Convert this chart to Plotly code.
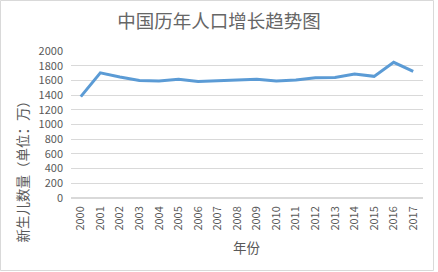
import plotly.graph_objects as go

years = [str(y) for y in range(2000, 2018)]
births = [1379, 1702, 1647, 1599, 1593, 1617, 1585, 1594, 1608, 1615, 1592, 1604, 1635, 1640, 1687, 1655, 1846, 1723]

W, H = 438, 272
L, R, T, B = 71, 15, 51, 74
pw, ph = W - L - R, H - T - B

font = "Noto Sans CJK SC, Microsoft YaHei, sans-serif"
grey = "#595959"

fig = go.Figure(go.Scatter(
    x=years, y=births, mode="lines",
    line=dict(color="#5B9BD5", width=3),
))

def px_x(p):
    return (p - L) / pw

def px_y(p):
    return 1 - (p - T) / ph

fig.add_shape(type="rect", xref="paper", yref="paper",
              x0=px_x(0.5), x1=px_x(433.5), y0=px_y(270.5), y1=px_y(0.5),
              line=dict(color="#d9d9d9", width=1), layer="below")

fig.add_annotation(text="新生儿数量（单位：万）", xref="paper", yref="paper",
                   x=px_x(21.5), y=px_y(168), textangle=-90, showarrow=False,
                   xanchor="center", yanchor="middle",
                   font=dict(size=13.5, color=grey, family=font))
fig.add_annotation(text="年份", xref="paper", yref="paper",
                   x=px_x(247), y=px_y(247), showarrow=False,
                   xanchor="center", yanchor="middle",
                   font=dict(size=13.5, color=grey, family=font))

fig.update_layout(
    width=W, height=H,
    margin=dict(l=L, r=R, t=T, b=B),
    paper_bgcolor="white", plot_bgcolor="white",
    showlegend=False,
    font=dict(family=font, color=grey, size=11),
    title=dict(text="中国历年人口增长趋势图", x=0.5, xanchor="center",
               y=1 - 22 / H, yanchor="middle",
               font=dict(size=18.5, color="#666666", family=font)),
    xaxis=dict(type="category", range=[-0.5, 17.5], tickangle=-90,
               showgrid=False, showline=False, ticks="", ticklabelstandoff=5,
               tickfont=dict(size=11, color=grey)),
    yaxis=dict(range=[0, 2000], dtick=200, showgrid=True, gridcolor="#d9d9d9",
               gridwidth=1, zeroline=True, zerolinecolor="#d9d9d9", showline=False,
               ticks="", ticklabelstandoff=7, tickfont=dict(size=11, color=grey)),
)

fig.write_html("out.html")
